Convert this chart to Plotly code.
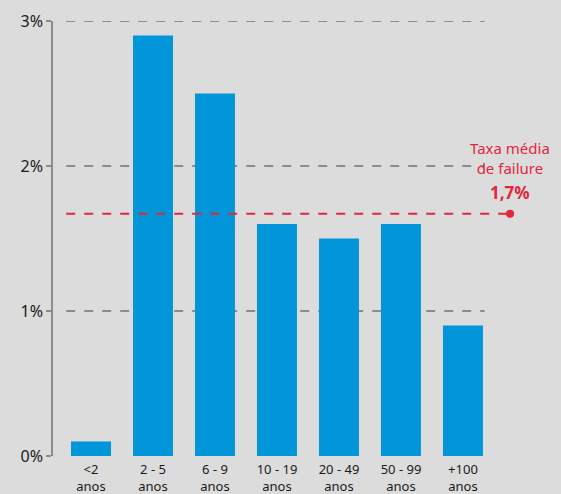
import plotly.graph_objects as go

categories = ["<2<br>anos", "2 - 5<br>anos", "6 - 9<br>anos", "10 - 19<br>anos",
              "20 - 49<br>anos", "50 - 99<br>anos", "+100<br>anos"]
values = [0.1, 2.9, 2.5, 1.6, 1.5, 1.6, 0.9]
average = 1.67
y_ticks = [0, 1, 2, 3]
y_tick_labels = ["0%", "1%", "2%", "3%"]

BG = "#dcdcdc"
BLUE = "#0096d9"
RED = "#e3263b"
FONT = "Noto Sans"

fig = go.Figure()
fig.add_trace(go.Bar(x=list(range(len(categories))), y=values, marker_color=BLUE,
                     marker_line_width=0, width=0.645))

# dashed gridlines
for t in y_ticks[1:]:
    fig.add_shape(type="line", xref="x", yref="y", x0=-0.4, x1=6.35, y0=t, y1=t,
                  line=dict(color="#8c8c8c", width=2, dash="dash"), layer="below")

# average line
fig.add_shape(type="line", xref="x", yref="y", x0=-0.4, x1=6.76, y0=average, y1=average,
              line=dict(color=RED, width=2, dash="dash"))
fig.add_trace(go.Scatter(x=[6.76], y=[average], mode="markers",
                         marker=dict(color=RED, size=8), hoverinfo="skip"))

fig.add_annotation(x=6.76, y=average, xref="x", yref="y", yshift=56,
                   text="Taxa média<br>de failure", showarrow=False,
                   font=dict(family=FONT, size=15, color=RED), align="center")
fig.add_annotation(x=6.76, y=average, xref="x", yref="y", yshift=21,
                   text="<b>1,7%</b>", showarrow=False,
                   font=dict(family=FONT, size=17, color=RED), align="center")

fig.update_layout(
    width=561, height=494,
    margin=dict(l=53, r=41, t=21, b=38, autoexpand=False),
    paper_bgcolor=BG, plot_bgcolor=BG,
    showlegend=False,
    font=dict(family=FONT, color="#1a1a1a"),
)
fig.update_xaxes(range=[-0.613, 6.92], tickmode="array", automargin=False,
                 tickvals=list(range(len(categories))), ticktext=categories,
                 showgrid=False, zeroline=False, showline=False, ticks="",
                 ticklabelstandoff=4,
                 tickfont=dict(size=13, family=FONT, color="#1a1a1a"))
fig.update_yaxes(range=[0, 3], tickmode="array", tickvals=y_ticks, ticktext=y_tick_labels,
                 automargin=False,
                 showgrid=False, zeroline=False, showline=True, linecolor="#8c8c8c",
                 linewidth=1.5, ticks="outside", ticklen=5, tickcolor="#8c8c8c",
                 tickwidth=1.5, tickfont=dict(size=16, family=FONT, color="#1a1a1a"))

fig.write_html("out.html")
